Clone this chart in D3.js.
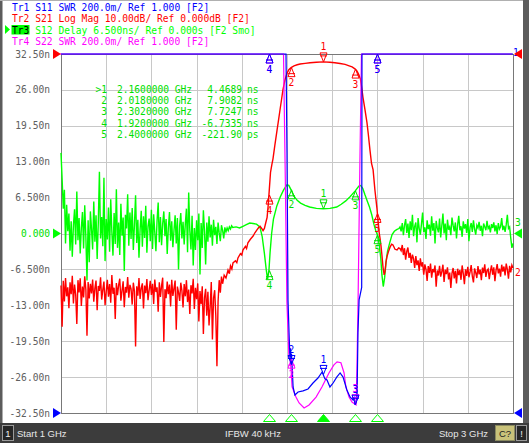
<!DOCTYPE html>
<html>
<head>
<meta charset="utf-8">
<script src="https://cdn.jsdelivr.net/npm/d3@7"></script>
<style>
body { margin: 0; background: #fff; overflow: hidden; }
svg text { font-family: "DejaVu Sans Mono", monospace; font-size: 9.6px; }
.bar text { font-family: "Liberation Sans", Arial, sans-serif; font-size: 9.5px; }
</style>
</head>
<body>
<script>
// sweep 1..3 GHz, noisy parts sampled every 5 MHz
var startGHz = 1, stopGHz = 3, stepGHz = 0.005;

var yTicks = [32.5, 26, 19.5, 13, 6.5, 0, -6.5, -13, -19.5, -26, -32.5];
var yTickLabels = ["32.50n", "26.00n", "19.50n", "13.00n", "6.500n", "0.000",
                   "-6.500n", "-13.00n", "-19.50n", "-26.00n", "-32.50n"];

var headerNames = ["Tr1", "Tr2", "Tr3", "Tr4"];
var headerLines = [
    "S11 SWR 200.0m/ Ref 1.000 [F2]",
    "S21 Log Mag 10.00dB/ Ref 0.000dB [F2]",
    "S12 Delay 6.500ns/ Ref 0.000s [F2 Smo]",
    "S22 SWR 200.0m/ Ref 1.000 [F2]"
];
var activeTrace = 2;

// Tr3 S12 group delay (ns), 1.000 GHz .. 1.760 GHz
var s12LeftNs = [
    14.6, 9.8, 4.5, 7.9, -1.8, 5.2, 0.4, 3.6, -3.1, 2.2,
    -4.2, 1.5, 4.4, -2.0, 7.6, -1.2, 2.8, -3.6, 1.0, 3.9,
    -2.7, 5.1, -0.6, -8.5, 2.4, -5.2, 4.0, 0.8, -2.9, 5.8,
    -1.5, 3.3, -4.6, 1.9, 11.2, -0.9, 3.0, -2.3, 10.1, -5.0,
    2.6, -1.1, 4.7, -3.3, 6.2, 0.3, -4.0, 3.7, -1.9, 8.0,
    -2.6, 2.0, -3.9, 5.4, -0.4, 2.9, -6.8, 3.4, 0.9, 7.1,
    -2.2, 3.8, -1.0, 4.6, -3.0, 1.6, 6.9, -1.7, 2.5, -4.4,
    0.7, 4.1, -2.4, 3.1, -0.8, 5.0, -3.5, 1.3, 2.7, -1.4,
    4.3, -2.8, 3.5, 0.2, -3.2, 2.3, 5.6, -1.6, 3.0, -2.1,
    1.8, 4.0, -0.5, 2.6, -3.7, 1.1, 3.9, -1.3, 2.2, -2.5,
    0.6, 3.3, -1.8, 2.8, -6.5, 1.4, 3.7, -0.9, 2.1, -2.0,
    1.7, 4.5, -3.4, 7.4, 0.5, -2.9, 3.2, -5.8, 1.0, -3.0,
    2.4, -1.2, 3.6, -7.4, 1.9, -2.6, 4.2, 0.4, -5.6, 2.0,
    -1.5, 3.1, -0.7, 1.6, -2.2, 2.5, -0.3, 1.2, -1.9, 2.0,
    0.1, -1.4, 1.5, 0.6, -0.9, 1.1, 0.3, 1.0, 0.5, 1.2,
    0.8, 1.4, 1.1
];
// passband part [GHz, ns]
var s12Mid = [
    [1.775, 1.2], [1.790, 1.0], [1.805, 1.3], [1.820, 1.6], [1.835, 1.9],
    [1.850, 1.8], [1.865, 1.7], [1.880, 1.2], [1.890, -0.5], [1.900, -3.6],
    [1.908, -6.5], [1.914, -8.3], [1.920, -6.73], [1.925, -3.5], [1.932, 0.0],
    [1.940, 2.6], [1.955, 5.0], [1.970, 6.6], [1.985, 7.9], [2.000, 8.8],
    [2.008, 8.7], [2.018, 7.91], [2.030, 6.8], [2.045, 6.0], [2.060, 5.5],
    [2.080, 5.1], [2.100, 4.8], [2.130, 4.55], [2.160, 4.47], [2.190, 4.55],
    [2.220, 4.8], [2.240, 5.3], [2.260, 5.9], [2.280, 6.7], [2.302, 7.72],
    [2.318, 8.6], [2.326, 8.7], [2.335, 8.2], [2.345, 7.0], [2.355, 5.9],
    [2.365, 4.8], [2.375, 3.4], [2.385, 1.6], [2.393, 0.5], [2.400, -0.22],
    [2.408, -2.0], [2.415, -4.5], [2.420, -7.5], [2.426, -9.6], [2.432, -8.0],
    [2.438, -5.2], [2.445, -3.2], [2.455, -1.6], [2.465, -0.2], [2.475, 0.4],
    [2.485, 0.7], [2.495, 0.9]
];
// 2.500 GHz .. 3.000 GHz
var s12RightNs = [
    1.2, 0.4, 1.9, -0.3, 1.5, 2.6, 0.1, 1.8, -0.8, 2.2,
    0.6, 3.4, -0.5, 1.3, 2.0, -1.6, 2.8, 0.9, -0.2, 1.7,
    3.8, 0.3, 1.1, -1.0, 2.4, 0.8, 1.6, -0.4, 3.1, 0.5,
    1.9, -1.8, 2.3, 1.0, 0.2, 2.7, -0.7, 1.4, 3.6, 0.0,
    1.8, -1.2, 2.5, 0.7, 1.2, -0.3, 2.9, 1.5, 0.4, 2.0,
    -0.9, 1.6, 3.2, 0.6, 1.3, -0.6, 2.2, 0.9, 1.7, 0.1,
    2.6, -1.4, 1.1, 1.9, 0.3, 2.4, 0.8, -0.2, 1.5, 1.0,
    2.1, 0.5, 1.4, -0.5, 1.8, 1.2, 0.6, 2.3, 0.9, 1.3,
    0.2, 1.7, 1.0, 2.0, 0.4, 1.5, -0.1, 1.9, 0.8, 1.2,
    2.8, 0.6, 1.4, 0.3, 1.6, 3.4, 0.9, 1.2, -0.8, -2.6, -1.8
];

// Tr2 S21 (dB), 1.000 GHz .. 1.710 GHz
var s21LeftDb = [
    -64.5, -76.0, -63.2, -68.9, -62.4, -67.5, -65.0, -70.8, -63.6, -66.9,
    -61.8, -69.5, -64.2, -67.0, -75.2, -63.0, -66.4, -62.5, -70.2, -64.8,
    -67.8, -61.9, -65.6, -78.5, -63.5, -68.1, -64.0, -66.7, -62.8, -69.0,
    -65.3, -63.1, -71.4, -64.6, -66.0, -62.2, -68.4, -65.7, -63.4, -70.0,
    -66.2, -62.9, -67.6, -64.1, -69.3, -61.6, -66.8, -65.1, -73.8, -63.8,
    -67.2, -64.4, -62.6, -68.7, -65.9, -63.3, -70.5, -64.9, -66.5, -62.1,
    -67.9, -64.3, -65.4, -69.8, -63.7, -66.1, -81.5, -64.7, -67.3, -62.4,
    -68.2, -65.2, -63.9, -70.9, -64.5, -66.6, -62.7, -68.6, -65.8, -63.2,
    -67.1, -64.0, -69.6, -62.8, -66.3, -65.0, -71.8, -63.6, -67.7, -64.6,
    -62.3, -80.2, -65.5, -68.0, -63.4, -66.9, -64.2, -70.3, -62.9, -67.4,
    -65.3, -63.1, -76.8, -64.8, -66.4, -68.8, -63.7, -65.9, -70.6, -64.1,
    -67.5, -63.0, -69.1, -65.6, -72.4, -64.4, -66.7, -62.6, -71.0, -65.1,
    -68.3, -63.9, -74.5, -66.0, -69.7, -64.7, -78.0, -67.9, -65.4, -72.9,
    -66.2, -75.6, -70.4, -63.5, -79.5, -68.0, -65.8, -73.0, -87.0, -69.0,
    -63.0, -66.5, -62.0
];
var s21Mid = [
    [1.715, -64.0], [1.722, -61.6], [1.730, -62.4], [1.739, -60.2], [1.745, -61.2],
    [1.750, -59.0], [1.756, -59.9], [1.761, -58.2], [1.772, -57.6], [1.778, -58.1],
    [1.783, -56.8], [1.794, -55.6], [1.800, -56.0], [1.805, -54.6], [1.816, -53.6],
    [1.821, -54.2], [1.827, -52.6], [1.838, -51.6], [1.850, -50.7], [1.858, -49.8],
    [1.867, -49.0], [1.874, -48.4], [1.881, -48.0], [1.888, -48.6], [1.894, -49.2],
    [1.900, -48.6], [1.906, -47.0], [1.912, -45.5], [1.917, -42.0], [1.922, -37.5],
    [1.927, -33.0], [1.933, -30.8], [1.938, -29.2], [1.946, -25.5], [1.956, -21.2],
    [1.963, -18.2], [1.969, -15.6], [1.976, -12.6], [1.982, -10.0], [1.991, -7.2],
    [2.000, -5.4], [2.008, -4.4], [2.018, -3.8], [2.031, -3.3], [2.045, -3.0],
    [2.058, -2.8], [2.080, -2.6], [2.102, -2.45], [2.130, -2.3], [2.160, -2.2],
    [2.190, -2.3], [2.212, -2.45], [2.235, -2.65], [2.257, -2.9], [2.275, -3.3],
    [2.288, -3.6], [2.302, -4.2], [2.310, -4.8], [2.318, -5.8], [2.325, -7.0],
    [2.331, -9.5], [2.336, -12.0], [2.345, -15.5], [2.354, -19.2], [2.360, -22.5],
    [2.367, -26.7], [2.374, -30.5], [2.381, -32.3], [2.389, -37.9], [2.398, -43.0],
    [2.403, -46.5], [2.408, -49.8], [2.412, -51.5], [2.416, -53.5], [2.420, -56.0],
    [2.425, -59.5], [2.430, -61.5], [2.434, -60.5], [2.438, -58.0], [2.442, -56.5],
    [2.449, -55.0], [2.456, -53.8], [2.463, -53.0], [2.469, -53.2], [2.478, -54.4],
    [2.487, -54.6], [2.494, -54.0], [2.500, -54.2]
];
// 2.505 GHz .. 3.000 GHz
var s21RightDb = [
    -54.8, -53.2, -56.0, -54.1, -57.3, -55.0, -53.9, -56.8, -55.4, -58.2,
    -55.9, -57.0, -59.6, -56.3, -58.8, -57.5, -60.4, -56.9, -59.2, -58.0,
    -61.5, -58.6, -60.0, -63.2, -59.1, -61.0, -58.4, -62.3, -59.9, -60.8,
    -58.9, -64.8, -60.3, -61.7, -59.0, -62.0, -60.6, -58.7, -63.5, -60.1,
    -61.3, -59.4, -62.8, -60.9, -65.2, -61.1, -59.6, -62.5, -60.4, -63.9,
    -59.8, -61.6, -60.2, -62.9, -58.9, -61.2, -64.1, -60.0, -61.8, -59.3,
    -62.2, -60.7, -58.8, -61.9, -63.6, -59.7, -60.9, -62.4, -59.1, -61.4,
    -60.1, -63.0, -59.5, -61.0, -58.6, -62.1, -60.3, -59.9, -62.7, -60.5,
    -58.9, -61.5, -59.4, -63.3, -60.2, -58.5, -61.1, -59.8, -62.0, -58.7,
    -60.6, -59.2, -61.7, -58.4, -60.0, -62.6, -59.0, -60.8, -58.8, -59.6
];

// Tr1 S11 SWR [GHz, SWR]  (off scale above 3.000)
var s11 = [
    [1.000, 4.0], [1.9956, 3.2], [2.0000, 2.45], [2.0045, 1.63], [2.0090, 1.45],
    [2.0130, 1.31], [2.0160, 1.36], [2.0180, 1.27], [2.0200, 1.33], [2.0220, 1.28],
    [2.0270, 1.145], [2.0350, 1.10], [2.0490, 1.117], [2.0710, 1.123], [2.0930, 1.134],
    [2.1150, 1.167], [2.1370, 1.195], [2.1550, 1.228], [2.1600, 1.215], [2.1680, 1.19],
    [2.1770, 1.184], [2.1900, 1.145], [2.2040, 1.167], [2.2200, 1.20], [2.2350, 1.223],
    [2.2480, 1.20], [2.2650, 1.128], [2.2790, 1.089], [2.2920, 1.072], [2.2970, 1.085],
    [2.3010, 1.045], [2.3050, 1.06], [2.3100, 1.089], [2.3140, 1.446], [2.3190, 1.63],
    [2.3305, 1.70], [2.3318, 3.2], [3.000, 4.0]
];
// Tr4 S22 SWR
var s22 = [
    [1.000, 4.0], [1.9890, 3.2], [1.9970, 2.30], [2.0040, 1.62], [2.0090, 1.45],
    [2.0130, 1.31], [2.0180, 1.30], [2.0220, 1.25], [2.0270, 1.145], [2.0440, 1.089],
    [2.0580, 1.056], [2.0800, 1.028], [2.1020, 1.045], [2.1330, 1.089], [2.1590, 1.145],
    [2.1900, 1.223], [2.2120, 1.268], [2.2260, 1.285], [2.2430, 1.28], [2.2570, 1.223],
    [2.2650, 1.145], [2.2790, 1.089], [2.2920, 1.061], [2.3100, 1.045], [2.3140, 1.25],
    [2.3190, 1.63], [2.3270, 2.4], [2.3340, 3.2], [3.000, 4.0]
];

var markerGHz = [2.16, 2.018, 2.302, 1.92, 2.4];
var markerNames = ["1", "2", "3", "4", "5"];
var readoutNames = [">1", "2", "3", "4", "5"];
var readoutFreq = ["2.1600000 GHz", "2.0180000 GHz", "2.3020000 GHz", "1.9200000 GHz", "2.4000000 GHz"];
var readoutValue = ["4.4689", "7.9082", "7.7247", "-6.7335", "-221.90"];
var readoutUnit = ["ns", "ns", "ns", "ns", "ps"];

// ---------------------------------------------------------------
var W = 529, H = 443;
var plot = {left: 61, top: 54, right: 513, bottom: 413};
var BLUE = "#0000ff", RED = "#ff0000", GREEN = "#00ff00", MAG = "#ff00ff";
var CHAR = 5.8; // monospace cell width on the analyser screen

function uniform(startF, values) {
    return values.map(function(v, i) { return {f: startF + i * stepGHz, v: v}; });
}
function pairs(list) {
    return list.map(function(p) { return {f: p[0], v: p[1]}; });
}
var s12Points = uniform(1.0, s12LeftNs).concat(pairs(s12Mid), uniform(2.5, s12RightNs));
var s21Points = uniform(1.0, s21LeftDb).concat(pairs(s21Mid), uniform(2.505, s21RightDb));
var s11Points = pairs(s11), s22Points = pairs(s22);

var x = d3.scaleLinear().domain([startGHz, stopGHz]).range([plot.left, plot.right]);
var yDelay = d3.scaleLinear().domain([-32.5, 32.5]).range([plot.bottom, plot.top]).clamp(true);
var yDb = d3.scaleLinear().domain([-100, 0]).range([plot.bottom, plot.top]).clamp(true);
var ySwr = d3.scaleLinear().domain([1, 3]).range([plot.bottom, plot.top]).clamp(true);

var svg = d3.select("body").append("svg")
    .attr("width", W)
    .attr("height", H);

svg.append("rect").attr("width", W).attr("height", H).attr("fill", "#fff");

// window edges
svg.append("rect").attr("x", 0).attr("y", 0).attr("width", 2.5).attr("height", 424).attr("fill", "#5c5c5c");
svg.append("rect").attr("x", 523).attr("y", 0).attr("width", 6).attr("height", 424).attr("fill", "#5c5c5c");
svg.append("line").attr("x1", 0).attr("x2", 523).attr("y1", 0.5).attr("y2", 0.5).attr("stroke", "#b0b0b0");

// header
var header = svg.append("g");
var headerColors = [BLUE, RED, GREEN, MAG];
header.append("polygon").attr("points", "5,25 10,29.5 5,34").attr("fill", GREEN);
header.append("rect").attr("x", 11.5).attr("y", 25).attr("width", 18).attr("height", 9.5).attr("fill", GREEN);
headerLines.forEach(function(line, i) {
    var yy = 11 + i * 11.3;
    header.append("text")
        .attr("x", 12).attr("y", yy)
        .attr("textLength", 3 * CHAR).attr("lengthAdjust", "spacingAndGlyphs")
        .attr("fill", i === activeTrace ? "#000" : headerColors[i])
        .text(headerNames[i]);
    header.append("text")
        .attr("x", 12 + 4 * CHAR).attr("y", yy)
        .attr("textLength", line.length * CHAR).attr("lengthAdjust", "spacingAndGlyphs")
        .attr("fill", headerColors[i])
        .text(line);
});

// grid
var grid = svg.append("g").attr("shape-rendering", "crispEdges");
grid.selectAll(".gx")
    .data(x.ticks(10))
    .enter().append("line")
    .attr("x1", function(d) { return Math.round(x(d)) + 0.5; })
    .attr("x2", function(d) { return Math.round(x(d)) + 0.5; })
    .attr("y1", plot.top).attr("y2", plot.bottom)
    .attr("stroke", "#c8c8c8");
grid.selectAll(".gy")
    .data(yTicks)
    .enter().append("line")
    .attr("y1", function(d) { return Math.round(yDelay(d)) + 0.5; })
    .attr("y2", function(d) { return Math.round(yDelay(d)) + 0.5; })
    .attr("x1", plot.left).attr("x2", plot.right)
    .attr("stroke", "#c8c8c8");
grid.append("rect")
    .attr("x", plot.left + 0.5).attr("y", plot.top + 0.5)
    .attr("width", plot.right - plot.left).attr("height", plot.bottom - plot.top)
    .attr("fill", "none").attr("stroke", "#787878");

// y axis labels (active trace Tr3)
var yAxis = d3.axisLeft(yDelay)
    .tickValues(yTicks)
    .tickFormat(function(d, i) { return yTickLabels[i]; })
    .tickSize(0)
    .tickPadding(11);
var ax = svg.append("g").attr("transform", "translate(" + plot.left + ",0)").call(yAxis);
ax.select(".domain").remove();
ax.selectAll("text")
    .style("font-family", "DejaVu Sans Mono")
    .style("font-size", "9.6px")
    .attr("fill", function(d) { return d === 0 ? "#00e000" : "#606060"; });

// traces
function traceLine(yScale) {
    return d3.line().x(function(d) { return x(d.f); }).y(function(d) { return yScale(d.v); });
}
var traces = svg.append("g").attr("fill", "none");
traces.append("path").datum(s12Points).attr("d", traceLine(yDelay))
    .attr("stroke", GREEN).attr("stroke-width", 1.4);
traces.append("path").datum(s21Points).attr("d", traceLine(yDb))
    .attr("stroke", RED).attr("stroke-width", 1.4);
traces.append("path").datum(s22Points).attr("d", traceLine(ySwr))
    .attr("stroke", MAG).attr("stroke-width", 1.2)
    .attr("transform", "translate(-1,0)");
traces.append("path").datum(s11Points).attr("d", traceLine(ySwr))
    .attr("stroke", BLUE).attr("stroke-width", 1.2);

// markers
function valueAt(points, f) {
    var i = d3.bisector(function(d) { return d.f; }).left(points, f);
    if (i <= 0) return points[0].v;
    if (i >= points.length) return points[points.length - 1].v;
    var a = points[i - 1], b = points[i];
    return a.v + (f - a.f) / (b.f - a.f) * (b.v - a.v);
}

var markerSets = [
    {points: s22Points, y: ySwr, color: MAG, dir: [null, "up", "down", "up", "up"]},
    {points: s12Points, y: yDelay, color: "#00e000", dir: ["down", "up", "up", "up", "up"]},
    {points: s21Points, y: yDb, color: RED, dir: ["down", "up", "up", "up", "up"]},
    {points: s11Points, y: ySwr, color: BLUE, dir: ["down", "down", "down", "up", "up"]}
];

var mk = svg.append("g");
markerSets.forEach(function(set) {
    markerGHz.forEach(function(f, i) {
        var dir = set.dir[i];
        if (!dir) return;
        var cx = Math.round(x(f)) + 0.5;
        var cy = set.y(valueAt(set.points, f));
        var s = dir === "up" ? 1 : -1;
        mk.append("path")
            .attr("d", "M" + cx + "," + cy + "L" + (cx - 3.5) + "," + (cy + s * 9) +
                       "L" + (cx + 3.5) + "," + (cy + s * 9) + "Z" +
                       "M" + (cx - 3.5) + "," + (cy + s * 6) + "L" + (cx + 3.5) + "," + (cy + s * 6))
            .attr("fill", "none").attr("stroke", set.color).attr("stroke-width", 1);
        mk.append("text")
            .attr("x", cx).attr("y", dir === "up" ? cy + 18.5 : cy - 11.5)
            .attr("text-anchor", "middle")
            .attr("fill", set.color)
            .text(markerNames[i]);
    });
});

// active-marker strip under the grid
svg.append("g").selectAll("path")
    .data(markerGHz)
    .enter().append("path")
    .attr("d", function(f) {
        var cx = Math.round(x(f)) + 0.5;
        return "M" + cx + ",414.5L" + (cx - 6) + ",421.5L" + (cx + 6) + ",421.5Z";
    })
    .attr("fill", function(f, i) { return i === 0 ? GREEN : "none"; })
    .attr("stroke", GREEN);

// marker readout
var ro = svg.append("g").attr("fill", "#00e000");
readoutNames.forEach(function(n, i) {
    var yy = 92.5 + i * 11.4;
    ro.append("text").attr("x", 107).attr("y", yy).attr("text-anchor", "end").text(n);
    ro.append("text").attr("x", 117).attr("y", yy).text(readoutFreq[i]);
    ro.append("text").attr("x", 242).attr("y", yy).attr("text-anchor", "end").text(readoutValue[i]);
    ro.append("text").attr("x", 247).attr("y", yy).text(readoutUnit[i]);
});

// reference position arrows
function refArrow(yPos, color, side) {
    var tip = side === "left" ? plot.left : plot.right + 1;
    var back = side === "left" ? tip - 8 : tip + 8;
    svg.append("polygon")
        .attr("points", tip + "," + yPos + " " + back + "," + (yPos - 5) + " " + back + "," + (yPos + 5))
        .attr("fill", color);
}
svg.append("text").attr("x", 513).attr("y", 56).attr("fill", BLUE).attr("font-size", "9px").text("1");
refArrow(yDb(0), RED, "left");
refArrow(yDb(0), RED, "right");
refArrow(yDelay(0), GREEN, "left");
refArrow(yDelay(0), GREEN, "right");
refArrow(ySwr(1), BLUE, "left");
refArrow(ySwr(1), BLUE, "right");

// trace end labels
svg.append("text").attr("x", 515).attr("y", yDelay(0) - 8).attr("fill", "#00e000").text("3");
svg.append("text").attr("x", 515).attr("y", yDb(valueAt(s21Points, 3)) + 8).attr("fill", RED).text("2");

// status bar
var bar = svg.append("g").attr("class", "bar");
bar.append("rect").attr("x", 0).attr("y", 423).attr("width", W).attr("height", 20).attr("fill", "#3c3c3c");
bar.append("rect").attr("x", 2.5).attr("y", 425.5).attr("width", 11).attr("height", 15).attr("fill", "#262626").attr("stroke", "#9a9a9a");
bar.append("text").attr("x", 8).attr("y", 437).attr("text-anchor", "middle").attr("fill", "#f0f0f0").text("1");
bar.append("text").attr("x", 17).attr("y", 437).attr("fill", "#e8e8e8").text("Start 1 GHz");
bar.append("text").attr("x", 253).attr("y", 437).attr("text-anchor", "middle").attr("fill", "#e8e8e8").text("IFBW 40 kHz");
bar.append("text").attr("x", 488).attr("y", 437).attr("text-anchor", "end").attr("fill", "#e8e8e8").text("Stop 3 GHz");
bar.append("rect").attr("x", 495.5).attr("y", 425.5).attr("width", 19).attr("height", 15).attr("fill", "#c9c27a").attr("stroke", "#8a8a60");
bar.append("text").attr("x", 505).attr("y", 437).attr("text-anchor", "middle").attr("fill", "#202020").text("C?");
bar.append("rect").attr("x", 516.5).attr("y", 425.5).attr("width", 10).attr("height", 15).attr("fill", "#262626").attr("stroke", "#9a9a9a");
bar.append("text").attr("x", 521.5).attr("y", 437).attr("text-anchor", "middle").attr("fill", "#f0f0f0").text("!");
</script>
</body>
</html>
